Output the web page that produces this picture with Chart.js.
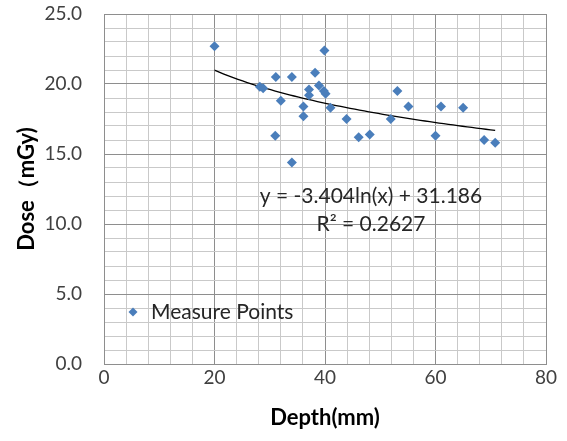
<!DOCTYPE html>
<html lang="en">
<head>
  <meta charset="UTF-8" />
  <title>Dose vs Depth</title>
  <script src="https://cdn.jsdelivr.net/npm/chart.js"></script>
  <style>
    html, body { margin: 0; padding: 0; background: #fff; }
    #wrap { width: 567px; height: 441px; }
  </style>
</head>
<body>
  <div id="wrap"><canvas id="grafico" width="567" height="441"></canvas></div>

  <script>
    const DEPTH_MM = [20.0, 39.9, 31.1, 34.0, 38.2, 28.2, 28.8, 38.9, 37.1, 39.8, 40.1, 37.1, 32.0, 41.0, 36.1,
                      36.1, 43.9, 31.0, 46.1, 48.1, 34.0, 51.9, 53.1, 55.1, 61.0, 65.0, 60.0, 68.8, 70.8];
    const DOSE_MGY = [22.7, 22.4, 20.5, 20.5, 20.8, 19.8, 19.7, 19.9, 19.6, 19.5, 19.3, 19.2, 18.8, 18.3, 18.4,
                      17.7, 17.5, 16.3, 16.2, 16.4, 14.4, 17.5, 19.5, 18.4, 18.4, 18.3, 16.3, 16.0, 15.8];

    // logarithmic trendline shown on the chart: y = a*ln(x) + b
    const TREND_A = -3.404;
    const TREND_B = 31.186;
    const TREND_R2 = 0.2627;

    const X_TICKS = [0, 20, 40, 60, 80];
    const Y_TICKS = [0, 5, 10, 15, 20, 25];

    const FONT = 'Lato, "Open Sans", sans-serif';
    const MAJOR = '#8e8e8e';
    const MINOR = '#c9c9c9';

    const puntos = DEPTH_MM.map((x, i) => ({ x: x, y: DOSE_MGY[i] }));

    const xMin = Math.min(...DEPTH_MM), xMax = Math.max(...DEPTH_MM);
    const tendencia = [];
    for (let i = 0; i <= 60; i++) {
      const x = xMin + (xMax - xMin) * i / 60;
      tendencia.push({ x: x, y: TREND_A * Math.log(x) + TREND_B });
    }

    // legend + equation drawn inside the plot area
    const etiquetas = {
      id: 'etiquetas',
      afterDatasetsDraw(chart) {
        const ctx = chart.ctx;
        const a = chart.chartArea;
        ctx.save();
        ctx.fillStyle = '#4a7ebb';
        const lx = a.left + 29, ly = a.top + 298;
        ctx.beginPath();
        ctx.moveTo(lx - 4.5, ly); ctx.lineTo(lx, ly - 4.5);
        ctx.lineTo(lx + 4.5, ly); ctx.lineTo(lx, ly + 4.5);
        ctx.closePath(); ctx.fill();

        ctx.fillStyle = '#262626';
        ctx.font = '21px ' + FONT;
        ctx.textBaseline = 'middle';
        ctx.textAlign = 'left';
        ctx.fillText('Measure Points', a.left + 47, ly);

        ctx.textAlign = 'center';
        const eq = 'y = ' + TREND_A.toFixed(3) + 'ln(x) + ' + TREND_B.toFixed(3);
        ctx.fillText(eq, a.left + 267, a.top + 182);
        ctx.fillText('R\u00b2 = ' + TREND_R2.toFixed(4), a.left + 267, a.top + 210);
        ctx.restore();
      }
    };

    new Chart(document.getElementById('grafico'), {
      type: 'scatter',
      data: {
        datasets: [
          {
            label: 'Measure Points',
            data: puntos,
            pointStyle: 'rectRot',
            pointRadius: 5,
            pointHoverRadius: 5,
            backgroundColor: '#4a7ebb',
            borderColor: '#4a7ebb',
            borderWidth: 0
          },
          {
            type: 'line',
            label: 'trend',
            data: tendencia,
            borderColor: '#000',
            borderWidth: 1.3,
            pointRadius: 0,
            fill: false,
            tension: 0
          }
        ]
      },
      options: {
        responsive: false,
        animation: false,
        layout: { padding: { left: 0, top: 14, right: 21, bottom: 0 } },
        plugins: { legend: { display: false }, tooltip: { enabled: false } },
        scales: {
          x: {
            type: 'linear',
            min: X_TICKS[0],
            max: X_TICKS[X_TICKS.length - 1],
            afterFit: s => { s.height = 77; s.paddingLeft = 0; s.paddingRight = 0; },
            afterBuildTicks: s => {
              const t = [];
              for (let v = s.min; v <= s.max; v += 4) t.push({ value: v });
              s.ticks = t;
            },
            ticks: {
              autoSkip: false,
              maxRotation: 0,
              padding: 2,
              color: '#404040',
              font: { family: FONT, size: 19 },
              callback: v => X_TICKS.includes(v) ? String(v) : ''
            },
            grid: {
              drawTicks: false,
              color: c => (c.tick && c.tick.value % 20 === 0) ? MAJOR : MINOR
            },
            border: { color: MAJOR },
            title: {
              display: true,
              text: 'Depth(mm)',
              color: '#000',
              font: { family: FONT, size: 22, weight: 'bold' },
              padding: { top: 0, bottom: 10 }
            }
          },
          y: {
            type: 'linear',
            min: Y_TICKS[0],
            max: Y_TICKS[Y_TICKS.length - 1],
            afterFit: s => { s.width = 104; s.paddingTop = 0; s.paddingBottom = 0; },
            afterBuildTicks: s => {
              const t = [];
              for (let v = s.min; v <= s.max; v += 1) t.push({ value: v });
              s.ticks = t;
            },
            ticks: {
              autoSkip: false,
              padding: 22,
              color: '#404040',
              font: { family: FONT, size: 19 },
              callback: v => Y_TICKS.includes(v) ? v.toFixed(1) : ''
            },
            grid: {
              drawTicks: false,
              color: c => (c.tick && c.tick.value % 5 === 0) ? MAJOR : MINOR
            },
            border: { color: MAJOR },
            title: {
              display: true,
              text: 'Dose\uff08mGy)',
              color: '#000',
              font: { family: FONT, size: 22, weight: 'bold' },
              padding: { top: 14, bottom: 0 }
            }
          }
        }
      },
      plugins: [etiquetas]
    });
  </script>
</body>
</html>
